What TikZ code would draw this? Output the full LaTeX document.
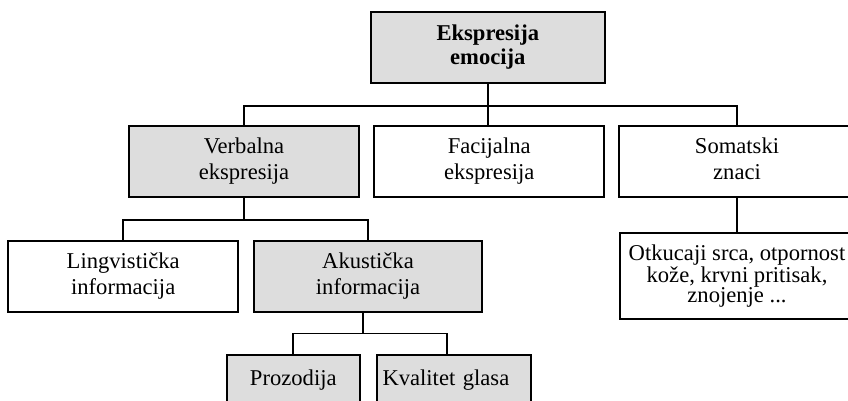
\documentclass[tikz,border=0pt]{standalone}
\usepackage{fontspec}
\setmainfont{Liberation Serif}
\usepackage{tikz}
\usetikzlibrary{positioning,calc}

\definecolor{boxgray}{RGB}{221,221,221}

\begin{document}
\begin{tikzpicture}[x=1pt,y=-1pt,
    box/.style={draw,line width=1.9pt,align=center,inner sep=2pt,
      font=\fontsize{22.6}{26}\selectfont},
    greybox/.style={box,fill=boxgray},
    link/.style={line width=1.7pt}]

  % frame of the page
  \useasboundingbox (0,0) rectangle (848,400);
  \clip (0,0) rectangle (848,400);

  % top level
  \node[greybox,minimum width=234pt,minimum height=70.7pt,
    font=\fontsize{22.6}{24}\selectfont\bfseries]
    (root) at (487.8,47.3) {Ekspresija\\emocija};

  % second level
  \node[greybox,minimum width=230pt,minimum height=70.7pt]
    (verb) at (244,161.3) {Verbalna\\ekspresija};
  \node[box,minimum width=230.3pt,minimum height=70.7pt]
    (faci) at (489.2,161.3) {Facijalna\\ekspresija};
  \node[box,minimum width=236pt,minimum height=70.7pt]
    (soma) at (737,161.3) {Somatski\\znaci\vphantom{j}};

  % third level
  \node[box,minimum width=230.3pt,minimum height=70.7pt]
    (ling) at (123.2,276.3) {Lingvistička\\informacija};
  \node[greybox,minimum width=227.4pt,minimum height=70.7pt]
    (akus) at (368,276.3) {Akustička\\informacija};
  \node[box,minimum width=234pt,minimum height=85.7pt,
    font=\fontsize{22.6}{20.5}\selectfont]
    (otk) at (737,276.2) {Otkucaji srca, otpornost\\kože, krvni pritisak,\\znojenje ...};

  % fourth level
  \node[greybox,minimum width=133.3pt,minimum height=50pt]
    (proz) at (293.3,380) {Prozodija};
  \node[greybox,minimum width=153.4pt,minimum height=50pt,
    text width=143pt,inner xsep=5pt,align=left]
    (kval) at (454,380) {Kvalitet glasa};

  % junctions
  \coordinate (topbar) at ($(root.south)+(0,22.3)$);
  \coordinate (verbbar) at ($(verb.south)+(0,22.6)$);
  \coordinate (akusdrop) at ([xshift=-4.7pt]akus.south);
  \coordinate (akusbar) at ($(akusdrop)+(0,20.8)$);

  % connectors
  \draw[link] (root.south) -- (topbar) -- (topbar |- faci.north);
  \draw[link] (verb.north) |- (topbar) -| (soma.north);
  \draw[link] (verb.south) -- (verbbar);
  \draw[link] (ling.north) |- (verbbar) -| (akus.north);
  \draw[link] (akusdrop) -- (akusbar);
  \draw[link] (proz.north) |- (akusbar) -| ([xshift=-6.7pt]kval.north);
  \draw[link] (soma.south) -- (otk.north);

\end{tikzpicture}
\end{document}
